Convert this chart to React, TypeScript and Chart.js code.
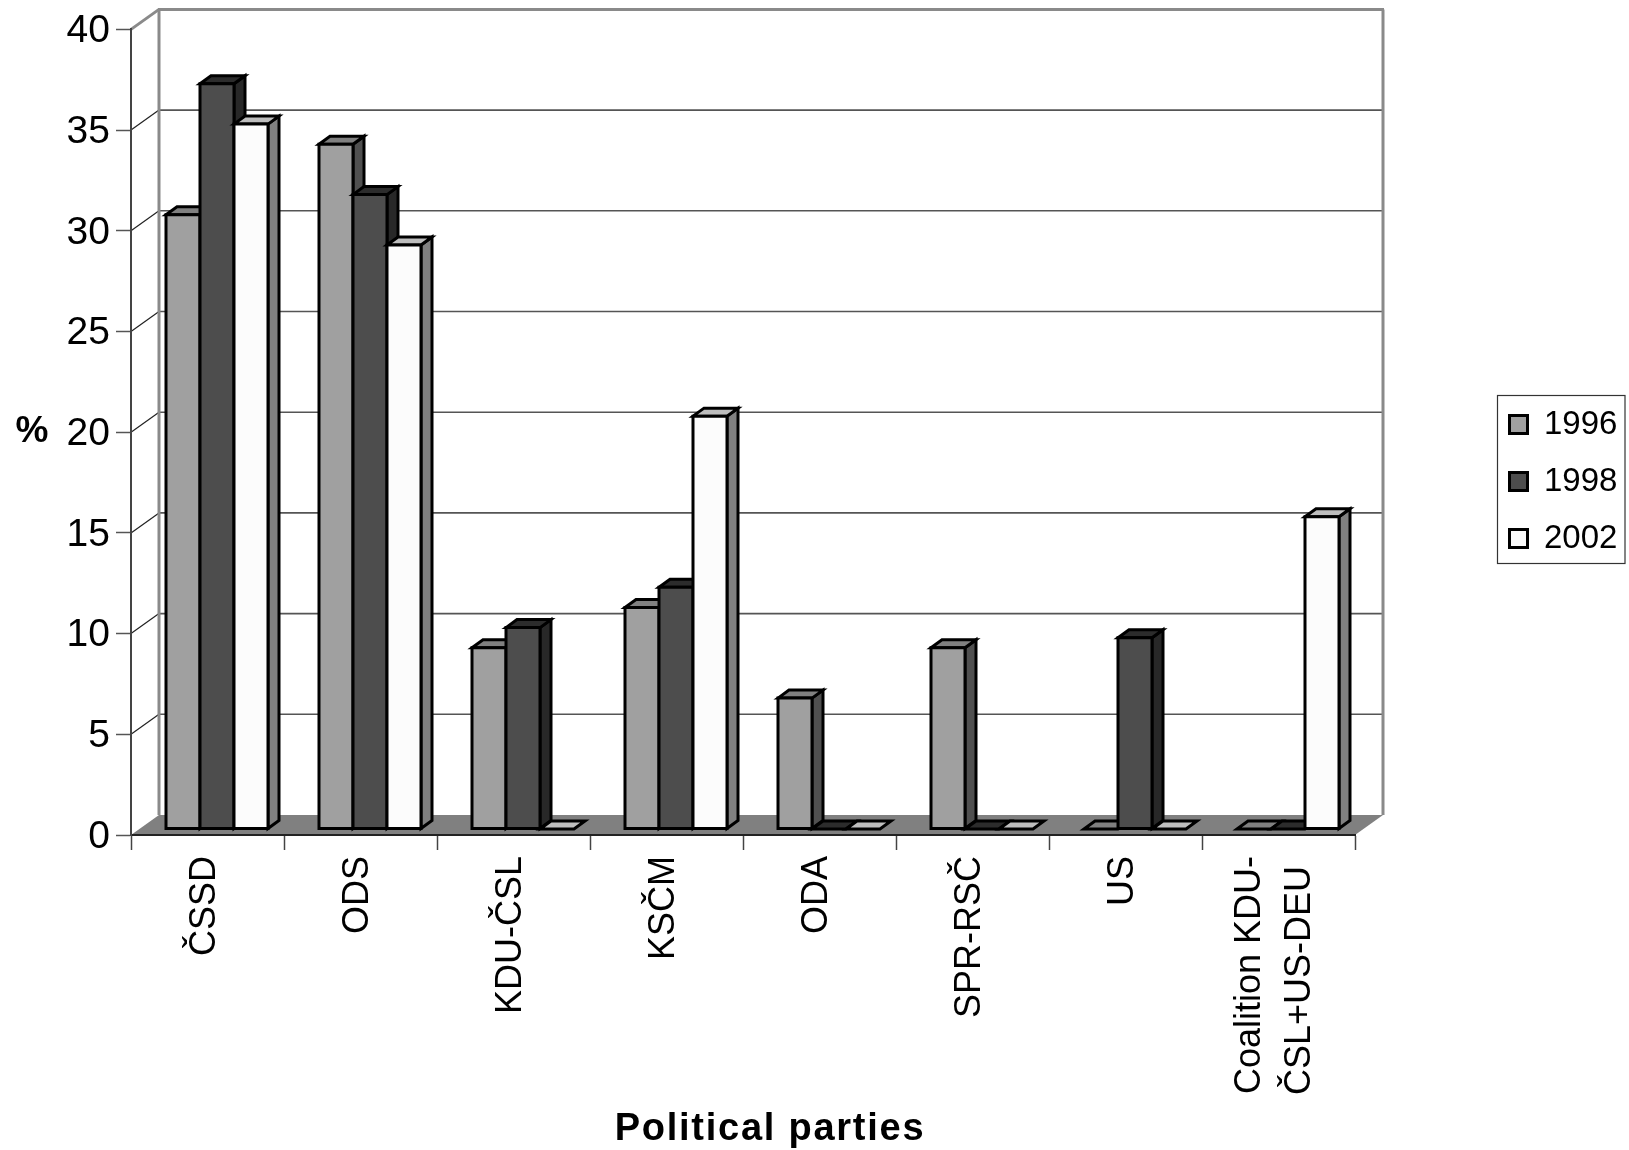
import React, { useEffect, useRef } from "react";
import { Chart, registerables } from "chart.js";

Chart.register(...registerables);

const parties: (string | string[])[] = ["ČSSD", "ODS", "KDU-ČSL", "KSČM", "ODA", "SPR-RSČ", "US", ["Coalition KDU-", "ČSL+US-DEU "]];
const years = ["1996", "1998", "2002"];
const values1996 = [30.5, 34, 9, 11, 6.5, 9, 0, 0];
const values1998 = [37, 31.5, 10, 12, 0, 0, 9.5, 0];
const values2002 = [35, 29, 0, 20.5, 0, 0, 0, 15.5];
const frontColors = ["#a0a0a0", "#4d4d4d", "#fcfcfc"];
const topColors = ["#808080", "#2c2c2c", "#bebebe"];
const sideColors = ["#505050", "#282828", "#808080"];

const FONT = '"Liberation Sans", Arial, sans-serif';
const WALL_DX = 28;
const WALL_DY = 20;
const BAR_SHIFT_X = 9.5;
const BAR_SHIFT_Y = 6;
const DEPTH_X = 11;
const DEPTH_Y = 8;

function poly(ctx: CanvasRenderingContext2D, pts: number[][], fill: string | null, stroke: string | null, lw = 1) {
  ctx.beginPath();
  pts.forEach((p, i) => (i ? ctx.lineTo(p[0], p[1]) : ctx.moveTo(p[0], p[1])));
  ctx.closePath();
  if (fill) {
    ctx.fillStyle = fill;
    ctx.fill();
  }
  if (stroke) {
    ctx.strokeStyle = stroke;
    ctx.lineWidth = lw;
    ctx.lineJoin = "miter";
    ctx.stroke();
  }
}

function line(ctx: CanvasRenderingContext2D, x1: number, y1: number, x2: number, y2: number, color: string, lw: number) {
  ctx.beginPath();
  ctx.moveTo(x1, y1);
  ctx.lineTo(x2, y2);
  ctx.strokeStyle = color;
  ctx.lineWidth = lw;
  ctx.stroke();
}

const threeD = {
  id: "threeD",
  beforeDraw(chart: any) {
    const { ctx, chartArea: a, scales } = chart;
    const y = scales.y;
    ctx.save();
    ctx.fillStyle = "#fff";
    ctx.fillRect(0, 0, chart.width, chart.height);

    // the two-line category label straddles its category centre
    const items = scales.x.getLabelItems(a);
    const multi = items.find((it: any) => Array.isArray(it.label));
    if (multi && !multi.__moved) {
      multi.options.translation[0] -= 26;
      multi.__moved = true;
    }

    // gridlines on the back wall with their oblique runs on the side wall
    y.ticks.forEach((t: any) => {
      const py = y.getPixelForValue(t.value);
      if (t.value > 0 && t.value < 40) {
        line(ctx, a.left, py, a.left + WALL_DX, py - WALL_DY, "#222", 1.2);
        line(ctx, a.left + WALL_DX, py - WALL_DY, a.right + WALL_DX, py - WALL_DY, "#555", 1.6);
      }
    });

    // floor
    poly(ctx, [[a.left, a.bottom], [a.left + WALL_DX, a.bottom - WALL_DY], [a.right + WALL_DX, a.bottom - WALL_DY], [a.right, a.bottom]], "#808080", null);

    // wall frame
    const gray = "#8a8a8a";
    line(ctx, a.left + WALL_DX, a.bottom - WALL_DY, a.left + WALL_DX, a.top - WALL_DY, gray, 3);
    line(ctx, a.left + WALL_DX - 1, a.top - WALL_DY, a.right + WALL_DX + 1, a.top - WALL_DY, gray, 3);
    line(ctx, a.right + WALL_DX, a.top - WALL_DY, a.right + WALL_DX, a.bottom - WALL_DY, gray, 3);
    line(ctx, a.left, a.top, a.left + WALL_DX, a.top - WALL_DY, gray, 3);

    // legend frame and placement
    const lg = chart.legend;
    const w = lg.width;
    const h = lg.height;
    lg.left = 1485.5;
    lg.right = lg.left + w;
    lg.top = 384;
    lg.bottom = lg.top + h;
    ctx.strokeStyle = "#333";
    ctx.lineWidth = 1.2;
    ctx.strokeRect(1497.5, 395.5, 127.5, 168);

    // axis titles
    ctx.fillStyle = "#000";
    ctx.textAlign = "center";
    ctx.textBaseline = "middle";
    ctx.font = `bold 37px ${FONT}`;
    ctx.fillText("%", 32, 432);
    ctx.font = `bold 38px ${FONT}`;
    ctx.letterSpacing = "1.75px";
    ctx.fillText("Political parties", 770, 1130);
    ctx.letterSpacing = "0px";
    ctx.restore();
  },
  beforeDatasetsDraw(chart: any) {
    const { ctx } = chart;
    const metas = chart.data.datasets.map((_: any, i: number) => chart.getDatasetMeta(i));
    ctx.save();
    parties.forEach((_, c) => {
      metas.forEach((m: any, d: number) => {
        const el = m.data[c];
        const half = el.width / 2;
        const l = el.x - half + BAR_SHIFT_X;
        const r = el.x + half + BAR_SHIFT_X;
        const t = el.y - BAR_SHIFT_Y;
        const b = el.base - BAR_SHIFT_Y;
        const lw = 3;
        if (b - t > 0.5) {
          poly(ctx, [[r, t], [r + DEPTH_X, t - DEPTH_Y], [r + DEPTH_X, b - DEPTH_Y], [r, b]], sideColors[d], "#000", lw);
        }
        poly(ctx, [[l, t], [l + DEPTH_X, t - DEPTH_Y], [r + DEPTH_X, t - DEPTH_Y], [r, t]], topColors[d], "#000", lw);
        if (b - t > 0.5) {
          poly(ctx, [[l, t], [r, t], [r, b], [l, b]], frontColors[d], "#000", lw);
        }
      });
    });
    ctx.restore();
    return false;
  },
};

export default function App() {
  const ref = useRef<HTMLCanvasElement>(null);
  useEffect(() => {
    const chart = new Chart(ref.current!, {
      type: "bar",
      data: {
        labels: parties as any,
        datasets: [values1996, values1998, values2002].map((v, i) => ({
          label: years[i],
          data: v,
          backgroundColor: frontColors[i],
          borderColor: "#000",
          borderWidth: 3,
          categoryPercentage: 2 / 3,
          barPercentage: 1,
        })),
      },
      options: {
        responsive: false,
        animation: false,
        devicePixelRatio: 1,
        layout: { padding: { left: 0, top: 29, right: 274, bottom: 0 } },
        plugins: {
          title: { display: false },
          tooltip: { enabled: false },
          legend: {
            position: "chartArea",
            align: "start",
            labels: {
              boxWidth: 18,
              boxHeight: 18,
              padding: 24,
              color: "#000",
              font: { family: FONT, size: 33 },
            },
          },
        },
        scales: {
          x: {
            afterFit: (s: any) => {
              s.height = 315;
            },
            grid: { drawOnChartArea: false, drawTicks: true, tickLength: 15, color: "#444", tickWidth: 1.5 },
            border: { display: true, color: "#222", width: 2 },
            ticks: {
              autoSkip: false,
              minRotation: 90,
              maxRotation: 90,
              padding: 6,
              labelOffset: -2,
              color: "#000",
              font: { family: FONT, size: 36, lineHeight: 1.38 },
            },
          },
          y: {
            min: 0,
            max: 40,
            afterFit: (s: any) => {
              s.width = 131;
            },
            grid: { drawOnChartArea: false, drawTicks: true, tickLength: 15, color: "#555", tickWidth: 1.5 },
            border: { display: true, color: "#444", width: 2 },
            ticks: {
              stepSize: 5,
              padding: 6,
              labelOffset: 2,
              color: "#000",
              font: { family: FONT, size: 39 },
            },
          },
        },
      },
      plugins: [threeD],
    } as any);
    return () => chart.destroy();
  }, []);
  return <canvas ref={ref} width={1629} height={1150} style={{ position: "absolute", left: 0, top: 0 }} />;
}
